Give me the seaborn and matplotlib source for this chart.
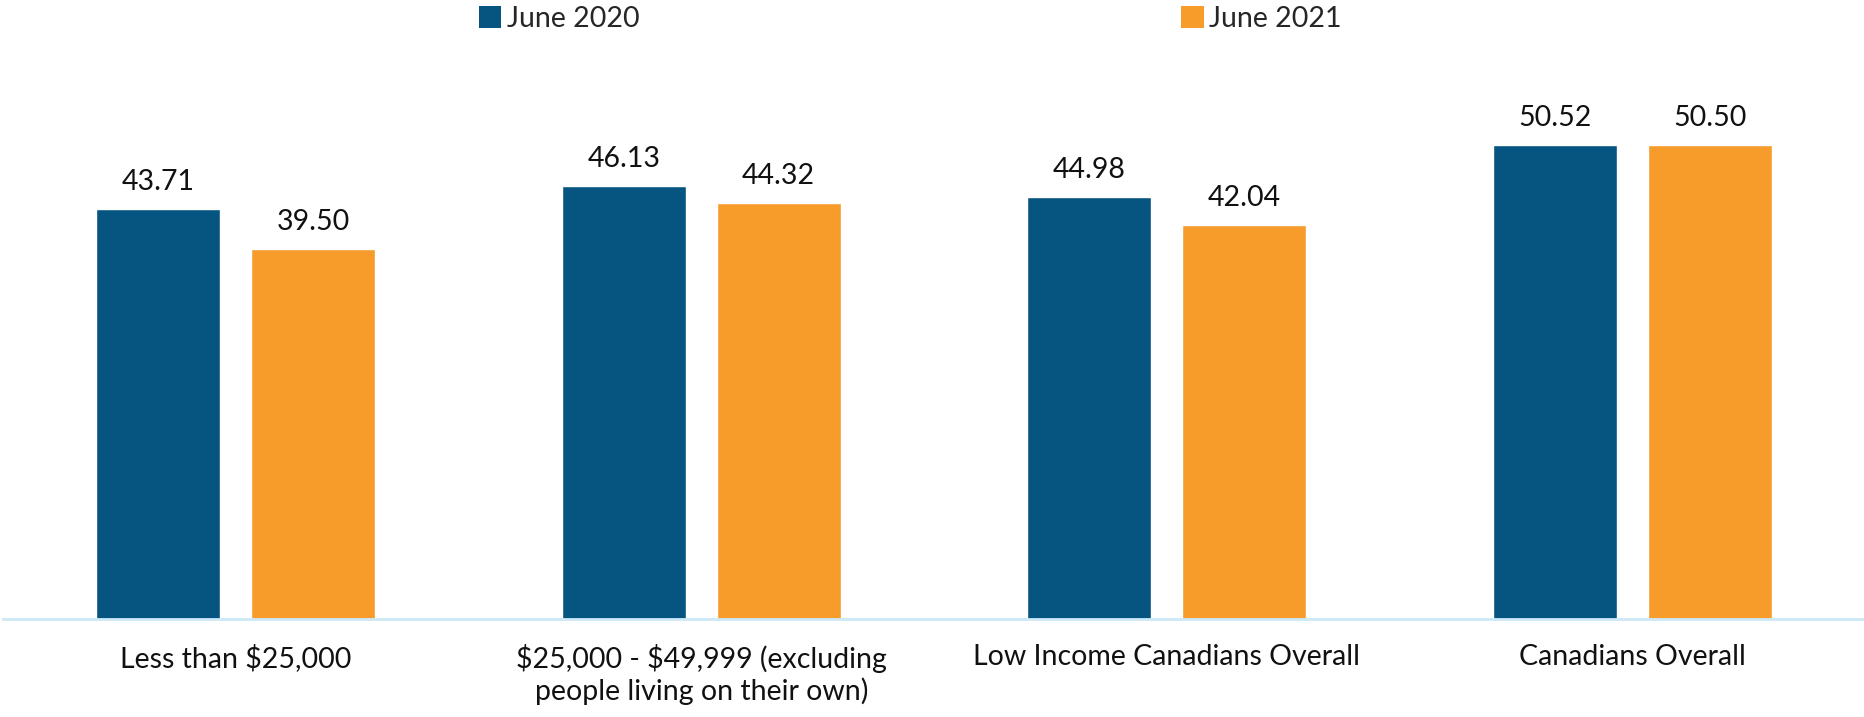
import pandas as pd
import matplotlib
matplotlib.use("Agg")
import matplotlib.pyplot as plt
import seaborn as sns
from matplotlib.patches import Patch


# chart values
categories = [
    "Less than $25,000",
    "$25,000 - $49,999 (excluding\npeople living on their own)",
    "Low Income Canadians Overall",
    "Canadians Overall",
]
periods = ["June 2020", "June 2021"]
june_2020 = [43.71, 46.13, 44.98, 50.52]
june_2021 = [39.50, 44.32, 42.04, 50.50]
colors = ["#065581", "#F79C2A"]


# long-form table for seaborn
df = pd.DataFrame({
    "category": categories * 2,
    "period": [periods[0]] * 4 + [periods[1]] * 4,
    "value": june_2020 + june_2021,
})

sns.set_style("white")
plt.rcParams["font.family"] = ["Lato", "DejaVu Sans"]
plt.rcParams["text.parse_math"] = False  # keep the $ signs literal

fig = plt.figure(figsize=(18.65, 7.17), dpi=100)
ax = fig.add_axes([3 / 1865, 98 / 717, 1862 / 1865, 619 / 717])

sns.barplot(data=df, x="category", y="value", hue="period",
            palette=colors, width=0.666, gap=0.2, saturation=1,
            order=categories, hue_order=periods, ax=ax)

ax.set_ylim(0, 66)
ax.set_xlim(-0.5, 3.5)
ax.set_xlabel("")
ax.set_ylabel("")
ax.set_yticks([])

for c in ax.containers:
    ax.bar_label(c, fmt="%.2f", padding=10, fontsize=20.5, color="#111111")

for s in ["top", "right", "left"]:
    ax.spines[s].set_visible(False)
ax.spines["bottom"].set_color("#CDE8F6")
ax.spines["bottom"].set_linewidth(2)
ax.tick_params(axis="x", length=0, pad=18, labelsize=20.5, labelcolor="#111111")

# legend across the top
ax.get_legend().remove()
handles = [Patch(facecolor=col, edgecolor="none") for col in colors]
fig.legend(handles, periods, loc="upper left", bbox_to_anchor=(473 / 1865, 1.0),
           ncol=2, frameon=False, fontsize=20.5, handlelength=0.8, handleheight=0.8,
           handletextpad=0.2, columnspacing=19.0, borderpad=0.2, borderaxespad=0)

fig.savefig("out.png", dpi=100)
